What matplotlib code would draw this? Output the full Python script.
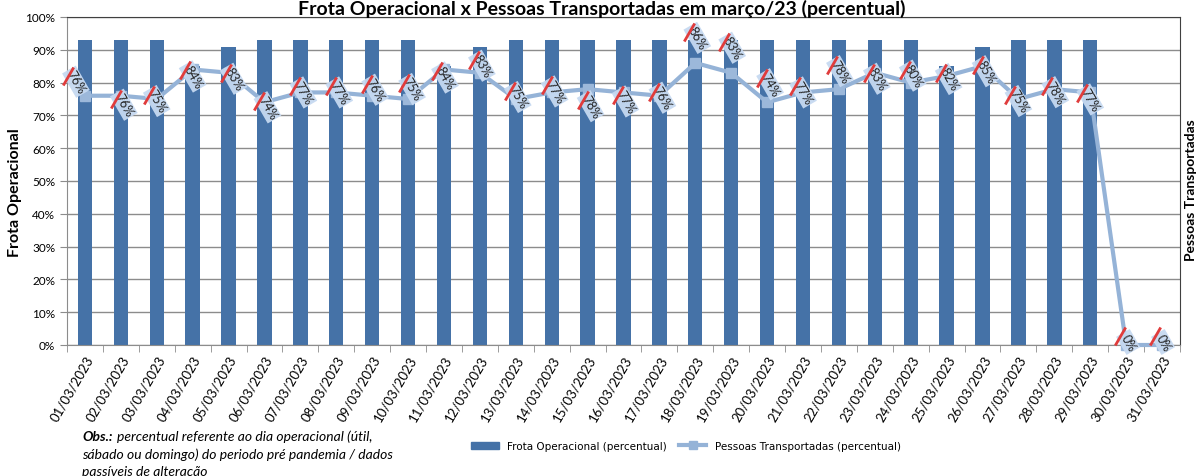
import numpy as np
import matplotlib.pyplot as plt
import matplotlib.transforms as mtransforms
from matplotlib.lines import Line2D
from matplotlib.patches import Patch
from matplotlib.path import Path

plt.rcParams['font.family'] = ['Lato', 'DejaVu Sans']

# data
dias = ['%02d/03/2023' % d for d in range(1, 32)]
frota = [93, 93, 93, 85, 91, 93, 93, 93, 93, 93, 85, 91, 93, 93, 93, 93, 93,
         93, 93, 93, 93, 93, 93, 93, 85, 91, 93, 93, 93, 0, 0]
pessoas = [76, 76, 75, 84, 83, 74, 77, 77, 76, 75, 84, 83, 75, 77, 78, 77, 76,
           86, 83, 74, 77, 78, 83, 80, 82, 85, 75, 78, 77, 0, 0]

# label nudges (pixels, x right / y down)
lbl_dx = [-9, 3, 0, 0, 5, 3, 3, 3, 3, 4, 1, 2, 2, 3, 3, 2, 3,
          2, 1, 3, 0, 1, 2, 2, 2, 3, 0, 1, 0, 2, 1]
lbl_dy = [-14, 9, 2, 7, 6, 5, 0, 0, -6, -10, 8, -7, -2, -1, 17, 9, 2,
          -25, -25, -18, 0, -18, 6, -7, 3, 5, 2, 3, 7, -3, -3]

bar_col = '#4572A7'
line_col = '#95B3D7'

fig = plt.figure(figsize=(12, 4.77), dpi=100)
ax = fig.add_axes([67/1200, 1-346/477, (1180-67)/1200, (346-18)/477])

x = np.arange(len(dias))
ax.bar(x, np.array(frota)/100, width=0.4, color=bar_col, zorder=2)
ax.plot(x, np.array(pessoas)/100, color=line_col, lw=3, marker='s', ms=7,
        mfc='#9CB8DA', mec='#9CB8DA', zorder=3, clip_on=False)

# rotated data labels with a red stripe at the upper-left edge
ang = -60
sa = np.radians(60)
stripe = Path([(-np.cos(sa), -np.sin(sa)), (np.cos(sa), np.sin(sa))], [Path.MOVETO, Path.LINETO])
for i, v in enumerate(pessoas):
    s = '%d%%' % v
    tr = mtransforms.offset_copy(ax.transData, fig=fig, x=lbl_dx[i], y=-lbl_dy[i], units='dots')
    ax.text(x[i], v/100, s, transform=tr, rotation=ang, rotation_mode='anchor',
            ha='center', va='center', fontsize=9, color='#222222', zorder=5,
            bbox=dict(boxstyle='square,pad=0.15', fc='#C6D9F1', ec='none', alpha=0.95))
    tr2 = mtransforms.offset_copy(ax.transData, fig=fig, x=lbl_dx[i]-8, y=-lbl_dy[i]+6, units='dots')
    ax.plot([x[i]], [v/100], transform=tr2, marker=stripe, ms=13, mec='#E03C3C', mew=2,
            ls='none', zorder=6, clip_on=False)

ax.set_xlim(-0.5, len(dias)-0.5)
ax.set_ylim(0, 1)
ax.set_yticks(np.arange(0, 1.01, 0.1))
ax.set_yticklabels(['%d%%' % (t*10) for t in range(11)], fontsize=8.5)
ax.yaxis.grid(True, color='#8C8C8C', lw=1)
ax.set_axisbelow(True)
ax.set_xticks(x)
ax.set_xticklabels(dias, rotation=60, ha='right', rotation_mode='anchor', fontsize=9.5)
ax.tick_params(axis='x', length=0, pad=6)
ax.set_xticks(np.arange(-0.5, len(dias), 1), minor=True)
ax.tick_params(axis='x', which='minor', length=5, color='#8C8C8C')
ax.tick_params(axis='y', length=5, color='#8C8C8C')
for sp in ax.spines.values():
    sp.set_color('#404040')
ax.spines['left'].set_color('#8C8C8C')
ax.spines['bottom'].set_color('#8C8C8C')

fig.text(15/1200, 1-193/477, 'Frota Operacional', rotation=90, fontsize=11.5,
         fontweight='bold', ha='center', va='center')
fig.text(1191/1200, 1-190/477, 'Pessoas Transportadas', rotation=90, fontsize=10,
         fontweight='bold', ha='center', va='center')
fig.text(602/1200, 1-9/477, 'Frota Operacional x Pessoas Transportadas em março/23 (percentual)',
         fontsize=14, fontweight='bold', ha='center', va='center')

handles = [Patch(color=bar_col, label='Frota Operacional (percentual)'),
           Line2D([], [], color=line_col, lw=3, marker='s', ms=6, label='Pessoas Transportadas (percentual)')]
fig.legend(handles=handles, loc='center', bbox_to_anchor=(686/1200, 1-447/477), ncol=2,
           frameon=False, prop={'family': 'DejaVu Sans', 'size': 7.5}, handlelength=2.6,
           columnspacing=1.2)

fs_obs = 10
fig.text(82/1200, 1-437/477, 'Obs.:', fontsize=fs_obs, fontweight='bold', style='italic', va='center')
fig.text(117/1200, 1-437/477, 'percentual referente ao dia operacional (útil,', fontsize=fs_obs,
         style='italic', va='center')
fig.text(82/1200, 1-455/477, 'sábado ou domingo) do periodo pré pandemia / dados', fontsize=fs_obs,
         style='italic', va='center')
fig.text(82/1200, 1-472/477, 'passíveis de alteração', fontsize=fs_obs, style='italic', va='center')

fig.savefig('out.png', dpi=100)
